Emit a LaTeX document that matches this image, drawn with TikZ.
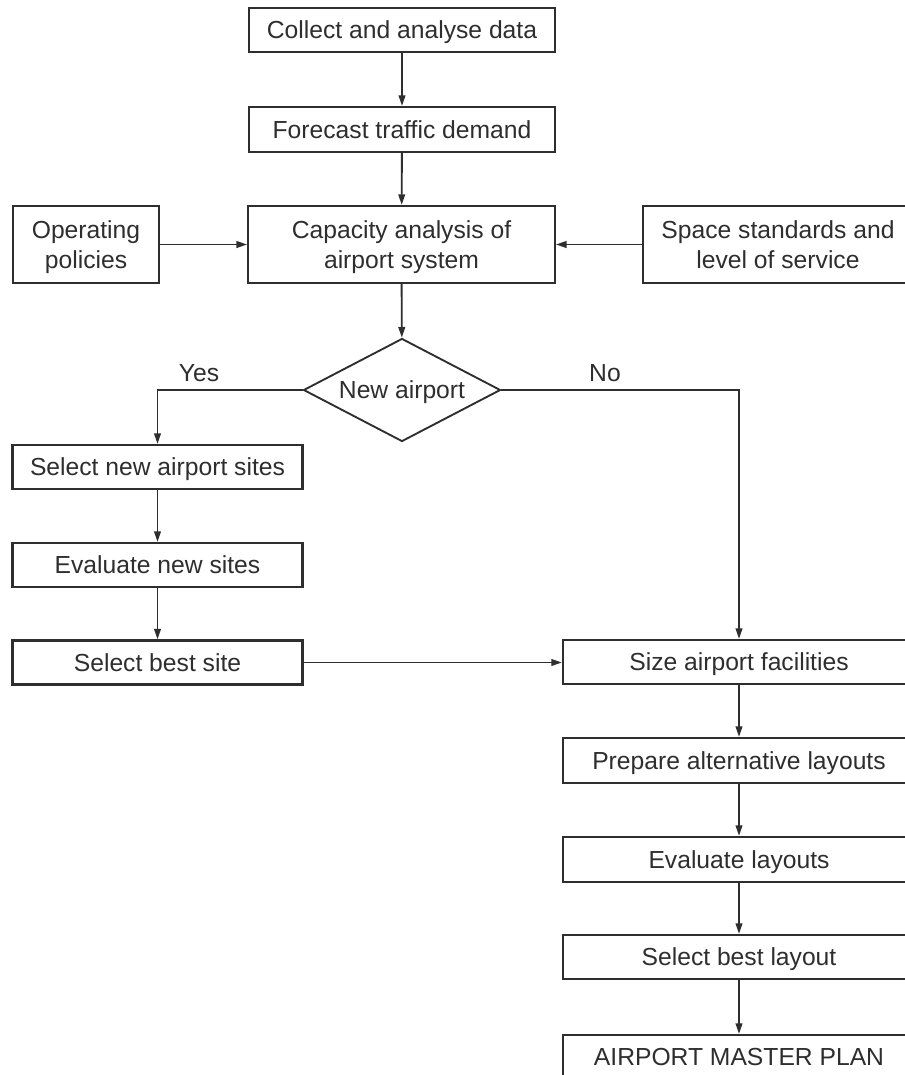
\documentclass[tikz,border=0pt]{standalone}
\usepackage{fontspec}
\setmainfont{Liberation Sans}
\usetikzlibrary{arrows.meta,shapes.geometric}
\definecolor{ink}{HTML}{2E2E2E}
\begin{document}
\begin{tikzpicture}[
  x=0.75pt, y=-0.75pt,
  every node/.style={font=\fontsize{18.5}{23}\selectfont, text=ink, align=center},
  % text boxes measured from cap top to last baseline, so the lettering sits centred
  oneline/.style={text height=13.3pt, text depth=0pt},
  twoline/.style={text height=36.3pt, text depth=0pt},
  procbox/.style={draw=ink, line width=1.6pt, fill=white, rectangle, inner sep=0pt,
                  minimum height=33pt},
  decision/.style={draw=ink, line width=1.4pt, fill=white, diamond, aspect=2, inner sep=0pt,
                   minimum width=147.75pt, minimum height=77.25pt},
  flow/.style={draw=ink, line width=1.4pt, -{Triangle[length=8pt,width=5pt]}},
  flowlabel/.style={inner sep=0pt}
]
% canvas
\fill[white] (0,0) rectangle (904,1075);
\useasboundingbox (0,0) rectangle (904,1075);

% central column
\node[procbox, oneline, minimum width=229.5pt] (collect) at (402,30) {Collect and analyse data};
\node[procbox, oneline, minimum width=229.5pt, minimum height=33.75pt] (forecast) at (402,129.5) {Forecast traffic demand};
\node[procbox, twoline, minimum width=230pt, minimum height=57.75pt] (capacity) at (401.5,244.5) {Capacity analysis of\\airport system};
\node[procbox, twoline, minimum width=109.5pt, minimum height=57.75pt] (policies) at (86,244.5) {Operating\\policies};
\node[procbox, twoline, minimum width=202.5pt, minimum height=57.75pt] (standards) at (778,244.5) {Space standards and\\level of service};
\node[decision, oneline] (newport) at (402,390) {New airport};

% new-site branch
\node[procbox, oneline, minimum width=217.5pt] (selsites) at (157.5,467) {Select new airport sites};
\node[procbox, oneline, minimum width=217.5pt] (evalsites) at (157.5,565) {Evaluate new sites};
\node[procbox, oneline, minimum width=217.5pt] (bestsite) at (157.5,662.5) {Select best site};

% planning column
\node[procbox, oneline, minimum width=264pt] (sizefac) at (739,662) {Size airport facilities};
\node[procbox, oneline, minimum width=264pt, minimum height=33.75pt] (layouts) at (739,760.5) {Prepare alternative layouts};
\node[procbox, oneline, minimum width=264pt, minimum height=33.75pt] (evallay) at (739,859.5) {Evaluate layouts};
\node[procbox, oneline, minimum width=264pt] (bestlay) at (739,957) {Select best layout};
\node[procbox, oneline, minimum width=264pt] (master) at (739,1057) {AIRPORT MASTER PLAN};

% decision labels
\node[flowlabel] (yes) at (199,373) {Yes};
\node[flowlabel] (no) at (605,373) {No};

% connectors
\draw[flow] (collect) -- (forecast);
\draw[flow] (forecast) -- (capacity);
\draw[flow] (policies) -- (capacity);
\draw[flow] (standards) -- (capacity);
\draw[flow] (capacity) -- (newport);
\draw[flow] (newport.west) -| (selsites.north);
\draw[flow] (newport.east) -| (sizefac.north);
\draw[flow] (selsites) -- (evalsites);
\draw[flow] (evalsites) -- (bestsite);
\draw[flow] (bestsite.east) -- (bestsite.east -| sizefac.west);
\draw[flow] (sizefac) -- (layouts);
\draw[flow] (layouts) -- (evallay);
\draw[flow] (evallay) -- (bestlay);
\draw[flow] (bestlay) -- (master);
\end{tikzpicture}
\end{document}
